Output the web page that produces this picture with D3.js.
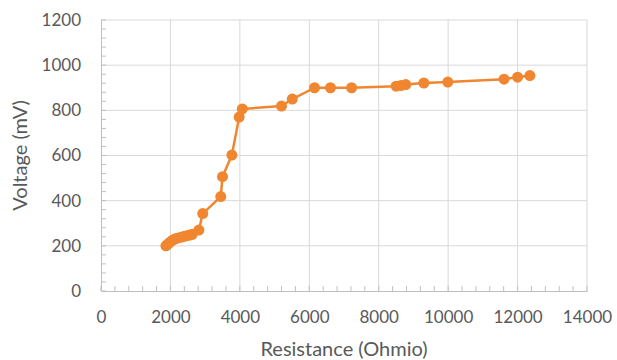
<!DOCTYPE html>
<html>
<head>
<meta charset="utf-8">
<script src="https://cdn.jsdelivr.net/npm/d3@7"></script>
<style>
  body { margin: 0; background: #fff; }
  text { font-family: Lato, "Open Sans", sans-serif; fill: #595959; }
</style>
</head>
<body>
<script>
var width = 617;
var height = 360;

var margin = {top: 20, bottom: 69, left: 101, right: 30};

// resistance (Ohm) and voltage (mV)
var resistance = [1870, 1920, 1980, 2050, 2120, 2200, 2300, 2400, 2480, 2560, 2630,
                  2820, 2930, 3450, 3500, 3770, 3980, 4070, 5200, 5510, 6150, 6610,
                  7220, 8500, 8640, 8780, 9300, 9990, 11610, 12000, 12355];
var voltage = [200, 206, 215, 224, 230, 234, 238, 242, 245, 248, 251,
               270, 343, 418, 506, 602, 770, 806, 819, 850, 900, 900,
               900, 907, 910, 914, 921, 925, 938, 947, 954];

var xTicks = [0, 2000, 4000, 6000, 8000, 10000, 12000, 14000];
var yTicks = [0, 200, 400, 600, 800, 1000, 1200];

var plotW = width - margin.left - margin.right;
var plotH = height - margin.top - margin.bottom;

var svg = d3.select("body").append("svg")
    .attr("width", width)
    .attr("height", height);

var g = svg.append("g")
    .attr("transform", "translate(" + margin.left + "," + margin.top + ")");

var xScale = d3.scaleLinear().domain([0, 14000]).range([0, plotW]);
var yScale = d3.scaleLinear().domain([0, 1200]).range([plotH, 0]);

// gridlines
g.selectAll(".hgrid")
    .data(yTicks.slice(1))
    .enter().append("line")
        .attr("x1", 0).attr("x2", plotW)
        .attr("y1", d => yScale(d)).attr("y2", d => yScale(d))
        .attr("stroke", "#d9d9d9").attr("stroke-width", 1);

g.selectAll(".vgrid")
    .data(xTicks.slice(1))
    .enter().append("line")
        .attr("x1", d => xScale(d)).attr("x2", d => xScale(d))
        .attr("y1", 0).attr("y2", plotH)
        .attr("stroke", "#d9d9d9").attr("stroke-width", 1);

// minor ticks, pointing into the plot
var xMinor = d3.range(0, 14001, 400);
var yMinor = d3.range(0, 1201, 40);

g.selectAll(".xminor")
    .data(xMinor)
    .enter().append("line")
        .attr("x1", d => xScale(d)).attr("x2", d => xScale(d))
        .attr("y1", plotH).attr("y2", plotH - 5)
        .attr("stroke", "#bfbfbf");

g.selectAll(".yminor")
    .data(yMinor)
    .enter().append("line")
        .attr("x1", 0).attr("x2", 5)
        .attr("y1", d => yScale(d)).attr("y2", d => yScale(d))
        .attr("stroke", "#bfbfbf");

// axes
var fmt = d3.format("d");
var xAxis = d3.axisBottom(xScale).tickValues(xTicks).tickFormat(fmt).tickSize(0).tickPadding(20);
var yAxis = d3.axisLeft(yScale).tickValues(yTicks).tickFormat(fmt).tickSize(0).tickPadding(20);

var gx = g.append("g")
    .attr("transform", "translate(0," + plotH + ")")
    .call(xAxis);
gx.select(".domain").attr("stroke", "#bfbfbf");
gx.selectAll("text").attr("font-size", 17).attr("fill", "#595959")
    .style("font-family", "Lato, sans-serif");

var gy = g.append("g").call(yAxis);
gy.select(".domain").attr("stroke", "#bfbfbf");
gy.selectAll("text").attr("font-size", 17).attr("fill", "#595959")
    .style("font-family", "Lato, sans-serif");

// series
var pts = resistance.map((r, i) => ({r: r, v: voltage[i]}));

var line = d3.line()
    .x(d => xScale(d.r))
    .y(d => yScale(d.v));

g.append("path")
    .datum(pts)
    .attr("d", line)
    .attr("fill", "none")
    .attr("stroke", "#f0862f")
    .attr("stroke-width", 2.5)
    .attr("stroke-linejoin", "round");

g.selectAll("circle")
    .data(pts)
    .enter().append("circle")
        .attr("cx", d => xScale(d.r))
        .attr("cy", d => yScale(d.v))
        .attr("r", 5.5)
        .attr("fill", "#f0862f");

// axis titles
svg.append("text")
    .attr("x", margin.left + plotW / 2)
    .attr("y", 356)
    .attr("text-anchor", "middle")
    .attr("font-size", 20)
    .text("Resistance (Ohmio)");

svg.append("text")
    .attr("transform", "translate(27," + (margin.top + plotH / 2) + ") rotate(-90)")
    .attr("text-anchor", "middle")
    .attr("font-size", 20)
    .text("Voltage (mV)");
</script>
</body>
</html>
